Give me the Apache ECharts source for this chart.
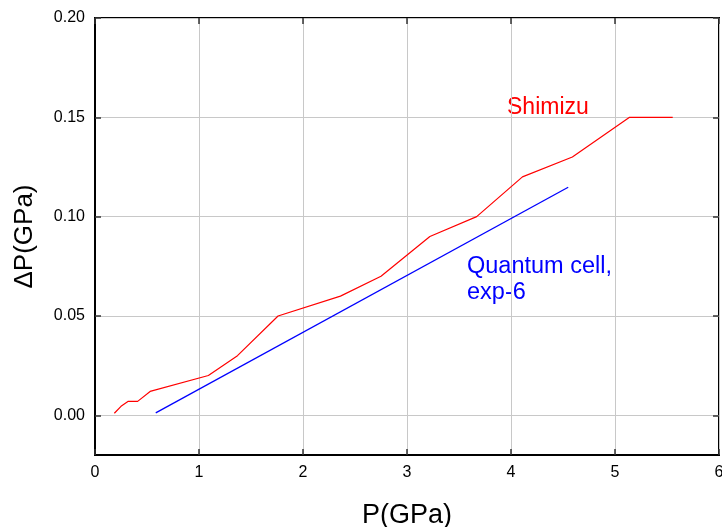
<!DOCTYPE html>
<html>
<head>
<meta charset="utf-8">
<script src="https://cdn.jsdelivr.net/npm/echarts@6/dist/echarts.min.js"></script>
<style>html,body{margin:0;padding:0;background:#fff;}#c{width:722px;height:527px;}</style>
</head>
<body>
<div id="c"></div>
<script>
// Shimizu (red)
var shimizuP  = [0.186, 0.25, 0.32, 0.41, 0.53, 1.09, 1.37, 1.76, 2.36, 2.75, 3.22, 3.67, 4.11, 4.59, 5.14, 5.555];
var shimizuDP = [0.001, 0.0045, 0.007, 0.007, 0.012, 0.020, 0.030, 0.050, 0.060, 0.070, 0.090, 0.100, 0.120, 0.130, 0.150, 0.150];
// Quantum cell, exp-6 (blue)
var quantumP  = [0.584, 4.55];
var quantumDP = [0.0012, 0.1148];
var xTicks = [0, 1, 2, 3, 4, 5, 6];
var yTicks = [0, 0.05, 0.10, 0.15, 0.20];

var font = 'Liberation Sans, Arial, sans-serif';
function pairs(a, b) { return a.map(function (v, i) { return [v, b[i]]; }); }

var chart = echarts.init(document.getElementById('c'), null, {renderer: 'canvas'});
var tickStyle = {show: true, inside: true, length: 6, lineStyle: {color: '#333', width: 1.5}};
var grid = {left: 95, right: 3, top: 18, bottom: 72, show: true, borderColor: '#000', borderWidth: 2,
  backgroundColor: 'transparent', containLabel: false, outerBoundsMode: 'none'};
chart.setOption({
  animation: false,
  grid: grid,
  xAxis: [{
    type: 'value', min: 0, max: 6, interval: 1, position: 'bottom',
    name: 'P(GPa)', nameLocation: 'middle', nameGap: 47,
    nameTextStyle: {fontSize: 27, color: '#000', fontFamily: font},
    axisLine: {show: true, onZero: false, lineStyle: {color: '#000', width: 2}},
    axisTick: tickStyle,
    axisLabel: {fontSize: 16, color: '#000', fontFamily: font, margin: 10,
      customValues: xTicks},
    splitLine: {show: true, lineStyle: {color: '#c8c8c8', width: 1}}
  }, {
    type: 'value', min: 0, max: 6, interval: 1, position: 'top',
    axisLine: {show: false, onZero: false}, axisTick: tickStyle, axisLabel: {show: false}, splitLine: {show: false}
  }],
  yAxis: [{
    type: 'value', min: -0.02, max: 0.2, position: 'left',
    name: 'ΔP(GPa)', nameLocation: 'middle', nameGap: 57,
    nameTextStyle: {fontSize: 26, color: '#000', fontFamily: font},
    axisLine: {show: true, onZero: false, lineStyle: {color: '#000', width: 2}},
    axisTick: Object.assign({}, tickStyle, {customValues: yTicks}),
    axisLabel: {fontSize: 16, color: '#000', fontFamily: font, margin: 10,
      customValues: yTicks,
      formatter: function (v) { return v.toFixed(2); }},
    splitLine: {show: true, lineStyle: {color: '#c8c8c8', width: 1}}
  }, {
    type: 'value', min: -0.02, max: 0.2, position: 'right',
    axisLine: {show: false, onZero: false},
    axisTick: Object.assign({}, tickStyle, {customValues: yTicks}),
    axisLabel: {show: false, customValues: yTicks}, splitLine: {show: false}
  }],
  series: [{
    type: 'line', name: 'Shimizu', data: pairs(shimizuP, shimizuDP),
    showSymbol: false, symbol: 'none', lineStyle: {color: '#ff0000', width: 1.2}, z: 3
  }, {
    type: 'line', name: 'Quantum cell, exp-6', data: pairs(quantumP, quantumDP),
    showSymbol: false, symbol: 'none', lineStyle: {color: '#0000ff', width: 1.3}, z: 3
  }],
  graphic: [{
    type: 'text', left: 507, top: 96,
    style: {text: 'Shimizu', fill: '#ff0000', font: '23px ' + font}
  }, {
    type: 'text', left: 467, top: 254,
    style: {text: 'Quantum cell,\nexp-6', fill: '#0000ff', font: '23.5px ' + font, lineHeight: 26}
  }]
});
</script>
</body>
</html>
